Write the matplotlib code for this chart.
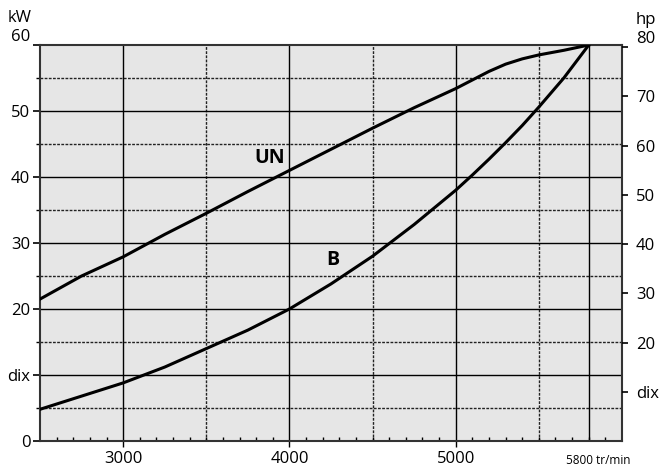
import numpy as np
import matplotlib.pyplot as plt

plt.rcParams['font.family'] = ['Open Sans', 'DejaVu Sans']

# engine speed (rpm) and power curves (kW)
rpm = [2500, 2750, 3000, 3250, 3500, 3750, 4000, 4250, 4500, 4750, 5000, 5100,
       5200, 5300, 5400, 5500, 5650, 5800]
power_un = [21.5, 25.0, 27.9, 31.3, 34.5, 37.8, 41.0, 44.2, 47.4, 50.5, 53.4, 54.7,
            56.0, 57.1, 57.9, 58.5, 59.2, 60.0]
power_b = [4.8, 6.8, 8.8, 11.2, 14.0, 16.8, 20.0, 23.8, 28.0, 32.8, 38.0, 40.3,
           42.7, 45.2, 47.8, 50.6, 55.0, 60.0]

kw_ticks = [0, 10, 20, 30, 40, 50, 60]
kw_labels = ['0', 'dix', '20', '30', '40', '50', '60']
hp_ticks = [10, 20, 30, 40, 50, 60, 70, 80]
hp_labels = ['dix', '20', '30', '40', '50', '60', '70', '80']
rpm_ticks = [3000, 4000, 5000]
KW_TO_HP = 1.341

fig = plt.figure(figsize=(6.61, 4.67), dpi=100)
ax = fig.add_axes([0.0605, 0.0557, 0.8805, 0.8479])
ax.set_facecolor('#e6e6e6')
ax.set_xlim(2500, 6000)
ax.set_ylim(0, 60)

# grid: solid every 1000 rpm / 10 kW, fine dashes in between
for x in [3000, 4000, 5000, 5800]:
    ax.axvline(x, color='black', lw=1.0, zorder=1)
for x in [3500, 4500, 5500]:
    ax.axvline(x, color='#222222', lw=1.0, ls=(0, (2, 1)), zorder=1)
for y in [10, 20, 30, 40, 50]:
    ax.axhline(y, color='black', lw=1.0, zorder=1)
for y in [5, 15, 25, 35, 45, 55]:
    ax.axhline(y, color='#222222', lw=1.0, ls=(0, (2, 1)), zorder=1)

ax.plot(rpm, power_un, color='black', lw=2.2, zorder=3)
ax.plot(rpm, power_b, color='black', lw=2.2, zorder=3)
ax.text(3880, 42.9, 'UN', fontsize=14, fontweight='bold', ha='center', va='center')
ax.text(4260, 27.4, 'B', fontsize=14, fontweight='bold', ha='center', va='center')

for s in ax.spines.values():
    s.set_color('#333333')
    s.set_linewidth(1.5)

ax.set_yticks(kw_ticks)
ax.set_yticklabels(kw_labels, fontsize=12)
ax.get_yticklabels()[-1].set_va('bottom')
ax.set_yticks([5, 15, 25, 35, 45, 55], minor=True)
ax.tick_params(axis='y', which='major', length=5, width=1.2, pad=2)
ax.tick_params(axis='y', which='minor', length=3, width=1.0)

ax.set_xticks(rpm_ticks)
ax.set_xticklabels([str(t) for t in rpm_ticks], fontsize=12)
ax.set_xticks(np.arange(2600, 6000, 100), minor=True)
ax.tick_params(axis='x', which='major', length=4, width=1.0, pad=3)
ax.tick_params(axis='x', which='minor', direction='in', length=3, width=1.0)

ax2 = ax.twinx()
ax2.set_ylim(0, 60 * KW_TO_HP)
ax2.set_yticks(hp_ticks)
ax2.set_yticklabels(hp_labels, fontsize=12)
ax2.get_yticklabels()[-1].set_va('bottom')
ax2.tick_params(axis='y', length=4, width=1.2, pad=6)
for s in ax2.spines.values():
    s.set_visible(False)

fig.text(8 / 661, 1 - 18 / 467, 'kW', fontsize=12, va='center', ha='left')
fig.text(636 / 661, 1 - 20 / 467, 'hp', fontsize=12, va='center', ha='left')
fig.text(598 / 661, 1 - 460 / 467, '5800 tr/min', fontsize=8.5, va='center', ha='center')

fig.savefig('out.png', dpi=100)
